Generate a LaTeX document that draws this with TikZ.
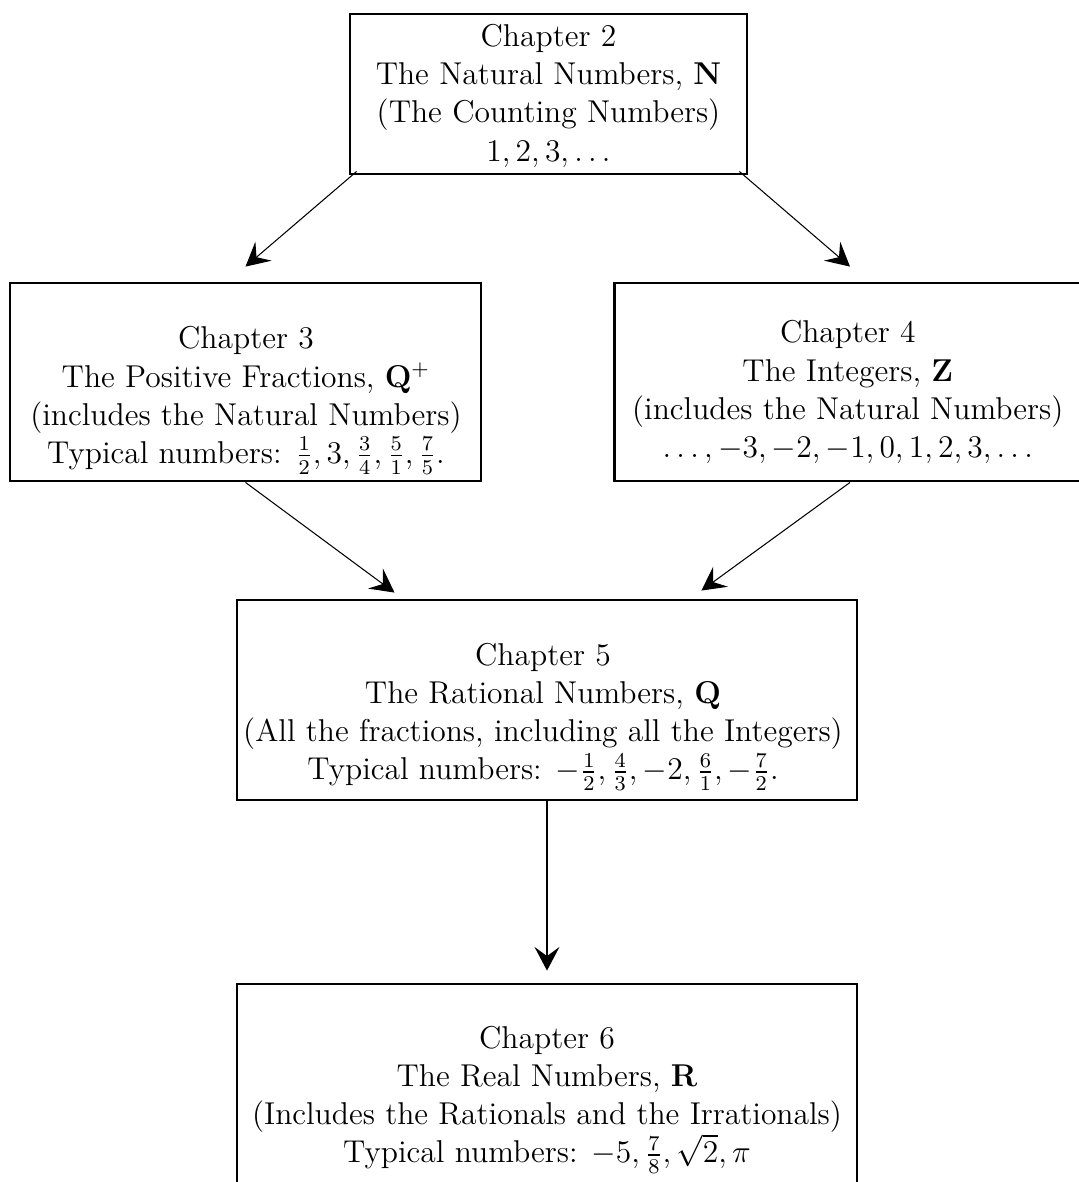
\documentclass[12pt,tikz,border=0pt]{standalone}
\usepackage{amsmath}
\usepackage{amsfonts}
\usetikzlibrary{arrows.meta}

\begin{document}
\begin{tikzpicture}[
	box/.style={draw, line width=1.1pt, inner sep=0pt},
	txt/.style={align=center, inner sep=0pt},
	arr/.style={-{Stealth[length=9pt, width=9.5pt, inset=3.5pt]}, line width=0.4pt}]
	\useasboundingbox (0,0) rectangle (14.419,-15.796);
	\clip (0,0) rectangle (14.419,-15.796);
	% boxes
	\node[box, minimum width=5.305cm, minimum height=2.138cm] (c2) at (7.330,-1.256) {};
	\node[box, minimum width=6.294cm, minimum height=2.646cm] (c3) at (3.281,-5.105) {};
	\node[box, minimum width=6.294cm, minimum height=2.646cm] (c4) at (11.359,-5.105) {};
	\node[box, minimum width=8.285cm, minimum height=2.673cm] (c5) at (7.310,-9.355) {};
	\node[box, minimum width=8.285cm, minimum height=3.4cm] (c6) at (7.310,-14.850) {};
	% texts
	\node[txt] (t2) at (7.330,-1.280) {Chapter 2\\The Natural Numbers, $\mathbf{N}$\\(The Counting Numbers)\\$1, 2, 3, \ldots$};
	\node[txt] (t3) at (3.287,-5.352) {Chapter 3\\The Positive Fractions, $\mathbf{Q}^+$\\(includes the Natural Numbers)\\Typical numbers: $\frac{1}{2}, 3, \frac{3}{4}, \frac{5}{1}, \frac{7}{5}$.};
	\node[txt] (t4) at (11.330,-5.240) {Chapter 4\\The Integers, $\mathbf{Z}$\\(includes the Natural Numbers)\\$\ldots, -3, -2, -1, 0, 1, 2, 3, \ldots$};
	\node[txt] (t5) at (7.256,-9.582) {Chapter 5\\The Rational Numbers, $\mathbf{Q}$\\(All the fractions, including all the Integers)\\Typical numbers: $-\frac{1}{2}, \frac{4}{3}, -2, \frac{6}{1}, -\frac{7}{2}$.};
	\node[txt] (t6) at (7.310,-14.700) {Chapter 6\\The Real Numbers, $\mathbf{R}$\\(Includes the Rationals and the Irrationals)\\Typical numbers: $-5, \frac{7}{8}, \sqrt{2}, \pi$};
	% arrows
	\draw[arr] ([shift={(0.107,0.053)}]c2.south west) -- ([yshift=0.2cm]c3.north);
	\draw[arr] ([shift={(-0.121,0.053)}]c2.south east) -- ([yshift=0.2cm]c4.north);
	\draw[arr] (c3.south) -- ([shift={(2.124,0.08)}]c5.north west);
	\draw[arr] (c4.south) -- ([shift={(-2.098,0.107)}]c5.north east);
	\draw[arr] (c5.south) -- ([yshift=0.16cm]c6.north);
\end{tikzpicture}
\end{document}
